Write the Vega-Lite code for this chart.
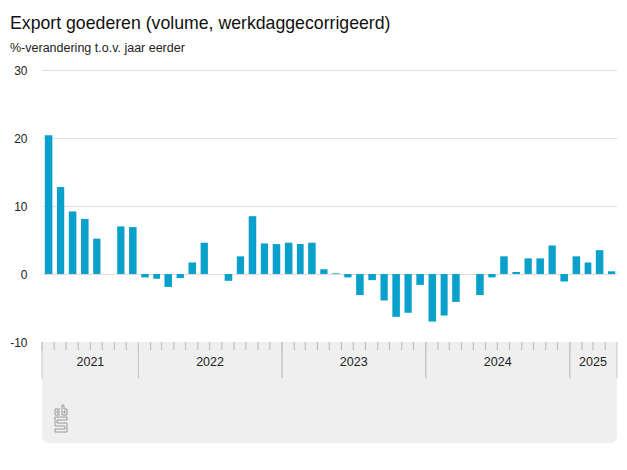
{
  "$schema": "https://vega.github.io/schema/vega-lite/v6.json",
  "width": 575,
  "height": 373,
  "autosize": {"type": "none"},
  "padding": {"left": 42, "top": 70, "right": 10, "bottom": 27},
  "title": {
    "text": "Export goederen (volume, werkdaggecorrigeerd)",
    "subtitle": "%-verandering t.o.v. jaar eerder",
    "anchor": "start",
    "frame": "group",
    "dx": -32,
    "offset": 10,
    "font": "Liberation Sans",
    "fontSize": 17.7,
    "fontWeight": "normal",
    "color": "#111111",
    "subtitleFont": "Liberation Sans",
    "subtitleFontSize": 12.5,
    "subtitleColor": "#222222",
    "subtitlePadding": 9
  },
  "datasets": {
    "bars": [
      {"month": "2021-05-01", "value": 20.4},
      {"month": "2021-06-01", "value": 12.8},
      {"month": "2021-07-01", "value": 9.2},
      {"month": "2021-08-01", "value": 8.1},
      {"month": "2021-09-01", "value": 5.2},
      {"month": "2021-10-01", "value": 0},
      {"month": "2021-11-01", "value": 7.0},
      {"month": "2021-12-01", "value": 6.9},
      {"month": "2022-01-01", "value": -0.5},
      {"month": "2022-02-01", "value": -0.7},
      {"month": "2022-03-01", "value": -1.9},
      {"month": "2022-04-01", "value": -0.6},
      {"month": "2022-05-01", "value": 1.7},
      {"month": "2022-06-01", "value": 4.6},
      {"month": "2022-07-01", "value": 0},
      {"month": "2022-08-01", "value": -1.0},
      {"month": "2022-09-01", "value": 2.6},
      {"month": "2022-10-01", "value": 8.5},
      {"month": "2022-11-01", "value": 4.5},
      {"month": "2022-12-01", "value": 4.4},
      {"month": "2023-01-01", "value": 4.6},
      {"month": "2023-02-01", "value": 4.4},
      {"month": "2023-03-01", "value": 4.6},
      {"month": "2023-04-01", "value": 0.7},
      {"month": "2023-05-01", "value": 0.1},
      {"month": "2023-06-01", "value": -0.5},
      {"month": "2023-07-01", "value": -3.1},
      {"month": "2023-08-01", "value": -0.9},
      {"month": "2023-09-01", "value": -3.9},
      {"month": "2023-10-01", "value": -6.3},
      {"month": "2023-11-01", "value": -5.7},
      {"month": "2023-12-01", "value": -1.6},
      {"month": "2024-01-01", "value": -7.0},
      {"month": "2024-02-01", "value": -6.1},
      {"month": "2024-03-01", "value": -4.1},
      {"month": "2024-04-01", "value": 0},
      {"month": "2024-05-01", "value": -3.1},
      {"month": "2024-06-01", "value": -0.5},
      {"month": "2024-07-01", "value": 2.6},
      {"month": "2024-08-01", "value": 0.3},
      {"month": "2024-09-01", "value": 2.3},
      {"month": "2024-10-01", "value": 2.3},
      {"month": "2024-11-01", "value": 4.2},
      {"month": "2024-12-01", "value": -1.1},
      {"month": "2025-01-01", "value": 2.6},
      {"month": "2025-02-01", "value": 1.7},
      {"month": "2025-03-01", "value": 3.5},
      {"month": "2025-04-01", "value": 0.4}
    ],
    "years": [
      {"year": "2021", "start": "2021-05-01", "end": "2022-01-01", "mid": "2021-09-01"},
      {"year": "2022", "start": "2022-01-01", "end": "2023-01-01", "mid": "2022-07-02"},
      {"year": "2023", "start": "2023-01-01", "end": "2024-01-01", "mid": "2023-07-02"},
      {"year": "2024", "start": "2024-01-01", "end": "2025-01-01", "mid": "2024-07-02"},
      {"year": "2025", "start": "2025-01-01", "end": "2025-05-01", "mid": "2025-03-01"}
    ]
  },
  "layer": [
    {
      "data": {"name": "years"},
      "mark": {"type": "rect", "color": "#efefef", "cornerRadiusBottomLeft": 7, "cornerRadiusBottomRight": 7},
      "encoding": {
        "x": {
          "aggregate": "min",
          "field": "start",
          "type": "temporal",
          "scale": {
            "type": "utc",
            "domain": [
              {"year": 2021, "month": 5, "date": 1, "utc": true},
              {"year": 2025, "month": 5, "date": 1, "utc": true}
            ]
          },
          "axis": null
        },
        "x2": {"aggregate": "max", "field": "end"},
        "y": {
          "datum": -10,
          "type": "quantitative",
          "scale": {"domain": [-24.85, 30], "nice": false, "zero": false},
          "axis": {
            "values": [-10, 0, 10, 20, 30],
            "labelExpr": "'' + datum.value",
            "title": null,
            "ticks": false,
            "domain": false,
            "grid": true,
            "gridColor": "#dddddd",
            "gridWidth": 1,
            "labelPadding": 15,
            "labelFont": "Liberation Sans",
            "labelFontSize": 12,
            "labelColor": "#222222"
          }
        },
        "y2": {"datum": -24.85}
      }
    },
    {
      "data": {"name": "bars"},
      "mark": {"type": "bar", "color": "#0aa0cc", "width": {"band": 0.7}},
      "encoding": {
        "x": {"field": "month", "type": "temporal", "timeUnit": "utcyearmonth"},
        "y": {"field": "value", "type": "quantitative"}
      }
    },
    {
      "mark": {"type": "rule", "color": "#555555", "strokeWidth": 2},
      "encoding": {"y": {"datum": 0}}
    },
    {
      "data": {"name": "bars"},
      "mark": {"type": "rule", "color": "#b8b8b8", "strokeWidth": 1},
      "encoding": {
        "x": {"field": "month", "type": "temporal", "timeUnit": "utcyearmonth"},
        "y": {"datum": -10},
        "y2": {"datum": -11.2}
      }
    },
    {
      "data": {"name": "years"},
      "mark": {"type": "rule", "color": "#c6c6c6", "strokeWidth": 1},
      "encoding": {
        "x": {"field": "start", "type": "temporal"},
        "y": {"datum": -10},
        "y2": {"datum": -15.3}
      }
    },
    {
      "data": {"name": "years"},
      "mark": {"type": "rule", "color": "#c6c6c6", "strokeWidth": 1},
      "encoding": {
        "x": {"field": "end", "type": "temporal"},
        "y": {"datum": -10},
        "y2": {"datum": -15.3}
      }
    },
    {
      "mark": {"type": "rule", "color": "#a6a6a6", "strokeWidth": 2},
      "encoding": {"y": {"datum": -10}}
    },
    {
      "data": {"name": "years"},
      "mark": {"type": "text", "font": "Liberation Sans", "fontSize": 12.5, "color": "#222222", "baseline": "middle", "align": "center"},
      "encoding": {
        "x": {"field": "mid", "type": "temporal"},
        "y": {"datum": -12.9},
        "text": {"field": "year"}
      }
    },
    {
      "data": {"name": "years"},
      "transform": [{"filter": "datum.year == '2021'"}],
      "mark": {
        "type": "point",
        "filled": false,
        "opacity": 1,
        "stroke": "#999999",
        "strokeWidth": 1,
        "size": 729,
        "xOffset": 19,
        "shape": "M-0.074,-0.704H-0.444V-0.259H-0.074M-0.074,-0.556H-0.296V-0.407H-0.074M0.074,-1V-0.259H0.444V-0.704H0.222V-1ZM0.222,-0.556H0.296V-0.407H0.222ZM0.444,-0.111H-0.444V0.556H0.296V0.778H-0.444V1H0.444V0.333H-0.296V0.111H0.444Z"
      },
      "encoding": {
        "x": {"field": "start", "type": "temporal"},
        "y": {"datum": -21.25}
      }
    }
  ],
  "config": {
    "view": {"stroke": null},
    "font": "Liberation Sans"
  }
}
